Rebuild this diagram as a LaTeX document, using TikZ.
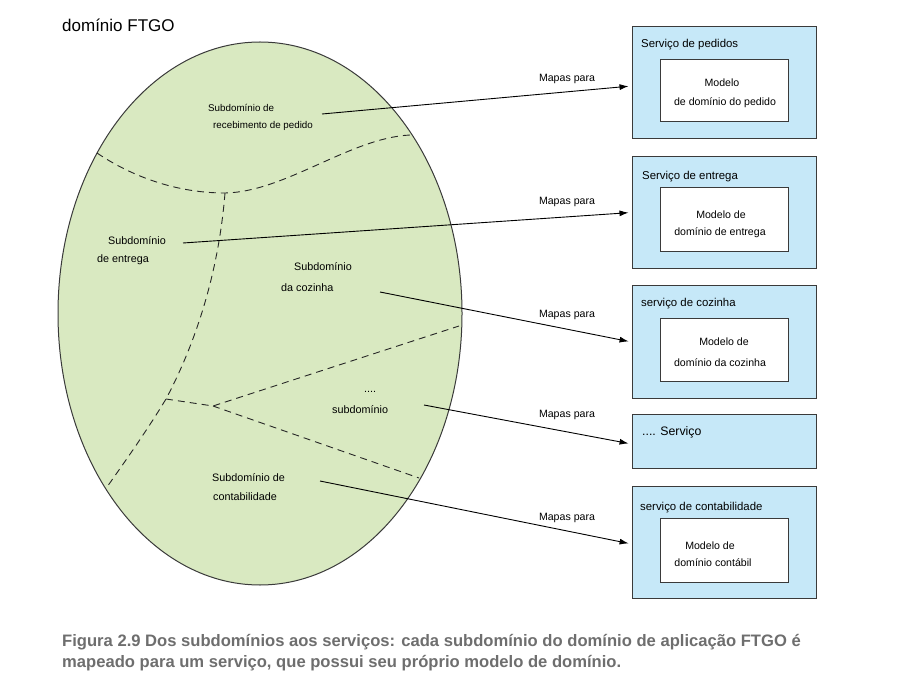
\documentclass[tikz,border=0pt]{standalone}
\usepackage{fontspec}
\setmainfont{Liberation Sans}
\usetikzlibrary{arrows.meta,shapes.geometric}
\definecolor{egg}{HTML}{D9E9C1}
\definecolor{svc}{HTML}{C6E8F8}
\definecolor{edgegray}{HTML}{3A3A3A}
\definecolor{capgray}{HTML}{6E6E6E}
\begin{document}
\begin{tikzpicture}[x=1pt,y=-1pt,
  lbl/.style={anchor=base west, inner sep=0pt, font=\fontsize{10.8}{12}\selectfont},
  lblc/.style={anchor=base, inner sep=0pt, font=\fontsize{10.6}{12}\selectfont},
  svcbox/.style={draw=edgegray, line width=1pt, fill=svc, minimum width=184pt, minimum height=112pt, inner sep=0pt},
  modbox/.style={draw=edgegray, line width=1pt, fill=white, minimum width=128pt, inner sep=0pt},
  sep/.style={dashed, dash pattern=on 7pt off 5pt, line width=0.9pt, black!85},
  arr/.style={-{Latex[length=9pt,width=6pt]}, line width=0.9pt, shorten >=3pt},
  captxt/.style={anchor=base west, inner sep=0pt, text=capgray, font=\bfseries\fontsize{16.6}{19}\selectfont}]
\useasboundingbox (0,0) rectangle (904,700);

% domain ellipse
\node[ellipse, draw=edgegray, line width=1pt, fill=egg, minimum width=404pt, minimum height=543pt, inner sep=0pt] (egg) at (260,313.5) {};
\node[anchor=base west, inner sep=0pt, font=\fontsize{17}{20}\selectfont] (title) at (62,31.5) {domínio FTGO};

% dashed boundaries
\draw[sep] (97,153) .. controls (125,172) and (170,193) .. (225,193)
  .. controls (285,192) and (350,138) .. (410,135);
\draw[sep] (225,193) .. controls (218,280) and (192,350) .. (166,399)
  .. controls (146,432) and (126,460) .. (107,487);
\draw[sep] (166,399) -- (213,406) -- (459,326);
\draw[sep] (213,406) -- (419,478);

% subdomain labels
\node[lbl, font=\fontsize{9.8}{12}\selectfont] (t1a) at (208,111.5) {Subdomínio de};
\node[lbl, font=\fontsize{9.8}{12}\selectfont] (t1b) at (213,128.5) {recebimento de pedido};
\node[lbl] (t2a) at (108,245) {Subdomínio};
\node[lbl] (t2b) at (97,262.5) {de entrega};
\node[lbl] (t3a) at (294,271) {Subdomínio};
\node[lbl] (t3b) at (281,292) {da cozinha};
\node[lbl] (t4a) at (364,392) {....};
\node[lbl] (t4b) at (332,413) {subdomínio};
\node[lbl] (t5a) at (212,481) {Subdomínio de};
\node[lbl] (t5b) at (213,500) {contabilidade};

% service boxes
\node[svcbox] (b1) at (724,83) {};
\node[svcbox] (b2) at (724,212.5) {};
\node[svcbox] (b3) at (724,342) {};
\node[svcbox, minimum height=54pt] (b4) at (724,441) {};
\node[svcbox] (b5) at (724,542.5) {};

\node[modbox, minimum height=62pt] (m1) at (724,91) {};
\node[modbox, minimum height=64pt] (m2) at (724,220) {};
\node[modbox, minimum height=63pt] (m3) at (724,349.5) {};
\node[modbox, minimum height=64pt] (m5) at (724,550) {};

\node[lbl, font=\fontsize{11.4}{13}\selectfont] (h1) at (641,48) {Serviço de pedidos};
\node[lbl, font=\fontsize{11.4}{13}\selectfont] (h2) at (642,180) {Serviço de entrega};
\node[lbl, font=\fontsize{11.4}{13}\selectfont] (h3) at (641,306) {serviço de cozinha};
\node[lbl, font=\fontsize{12.3}{14}\selectfont] (h4) at (642,435) {.... Serviço};
\node[lbl, font=\fontsize{11.4}{13}\selectfont] (h5) at (640,510) {serviço de contabilidade};

\node[lblc] (i1a) at (722,87) {Modelo};
\node[lblc] (i1b) at (725,106) {de domínio do pedido};
\node[lblc] (i2a) at (721,219) {Modelo de};
\node[lblc] (i2b) at (720,236) {domínio de entrega};
\node[lblc] (i3a) at (724,345) {Modelo de};
\node[lblc] (i3b) at (720,366) {domínio da cozinha};
\node[lblc] (i5a) at (710,549) {Modelo de};
\node[lblc] (i5b) at (713,566) {domínio contábil};

% mapping arrows
\coordinate (s1) at (322,114);
\coordinate (s2) at (183,243);
\coordinate (s3) at (380,292);
\coordinate (s4) at (424,405);
\coordinate (s5) at (320,481);
\draw[arr] (s1) -- ([yshift=-3pt]b1.west);
\draw[arr] (s2) -- (b2.west);
\draw[arr] (s3) -- (b3.west);
\draw[arr] (s4) -- ([yshift=-3pt]b4.west);
\draw[arr] (s5) -- ([yshift=-1.5pt]b5.west);
\node[lblc] (l1) at (567,82) {Mapas para};
\node[lblc] (l2) at (567,205) {Mapas para};
\node[lblc] (l3) at (567,318) {Mapas para};
\node[lblc] (l4) at (567,417) {Mapas para};
\node[lblc] (l5) at (567,520) {Mapas para};

% caption
\node[captxt] (c1) at (62,646) {Figura 2.9 Dos subdomínios aos serviços: cada subdomínio do domínio de aplicação FTGO é};
\node[captxt] (c2) at (62,667) {mapeado para um serviço, que possui seu próprio modelo de domínio.};
\end{tikzpicture}
\end{document}
